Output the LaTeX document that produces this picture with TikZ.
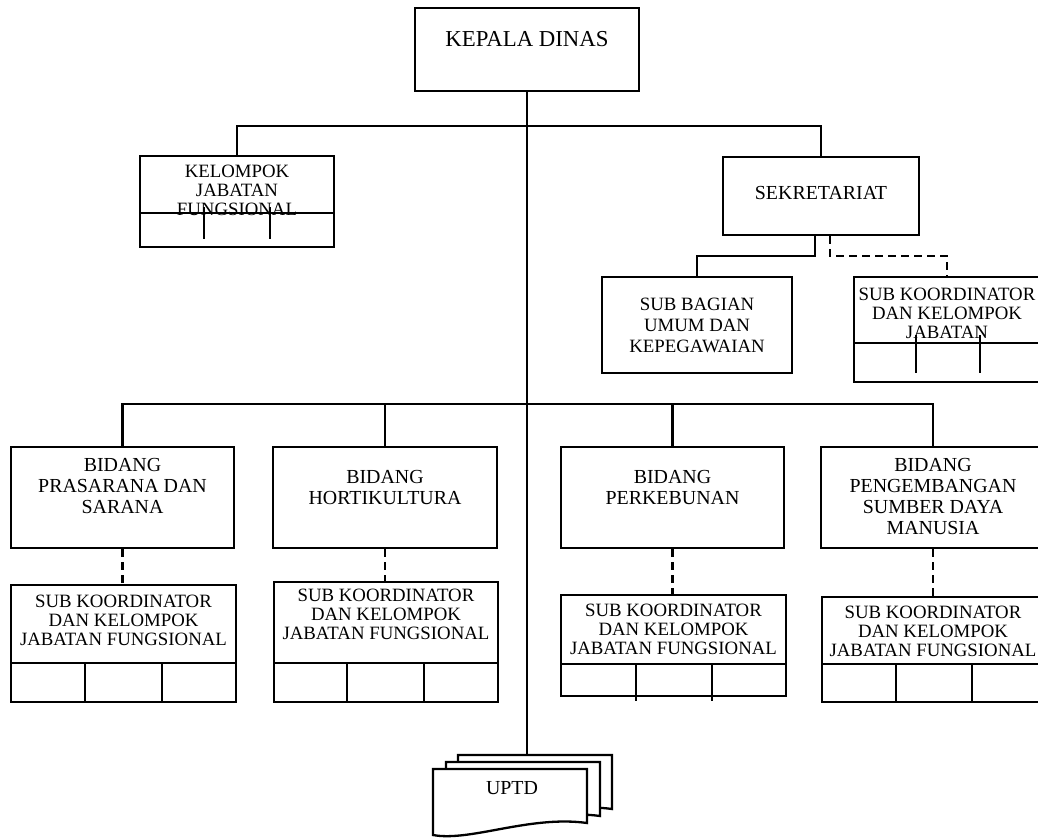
\documentclass[tikz,border=0pt]{standalone}
\usepackage{fontspec}
\setmainfont{Liberation Serif}

\begin{document}
\begin{tikzpicture}[
  x=1pt, y=-1pt,
  line width=2.3pt,
  box/.style={draw, rectangle, inner sep=0pt},
  lbl/.style={align=center, inner sep=0pt},
  bigf/.style={font=\fontsize{22.8}{24}\selectfont},
  midf/.style={font=\fontsize{19.9}{21}\selectfont},
  smallf/.style={font=\fontsize{18.8}{19}\selectfont},
  dashline/.style={dash pattern=on 8pt off 5pt}
]
\useasboundingbox (0,0) rectangle (1038,838);
\clip (0,0) rectangle (1038,838);

\node[box, minimum width=224pt, minimum height=83pt,
      label={[lbl, bigf, yshift=10.5pt]center:KEPALA DINAS}] (kepala) at (527,49.5) {};
\node[box, minimum width=194pt, minimum height=91pt,
      label={[lbl, smallf, yshift=11.5pt]center:{KELOMPOK\\JABATAN\\FUNGSIONAL}}] (kjf) at (237,201.5) {};
\node[box, minimum width=196pt, minimum height=78pt,
      label={[lbl, midf, yshift=3pt]center:SEKRETARIAT}] (sek) at (821,196) {};
\node[box, minimum width=190pt, minimum height=96pt,
      label={[lbl, font=\fontsize{18.8}{21}\selectfont]center:{SUB BAGIAN\\UMUM DAN\\KEPEGAWAIAN}}] (subbag) at (697,325) {};
\node[box, minimum width=186pt, minimum height=105pt,
      label={[lbl, smallf, yshift=16.5pt]center:{SUB KOORDINATOR\\DAN KELOMPOK\\JABATAN}}] (skj) at (947,329.5) {};

\node[box, minimum width=223pt, minimum height=101pt,
      label={[lbl, midf, yshift=11.5pt]center:{BIDANG\\PRASARANA DAN\\SARANA}}] (bid1) at (122.5,497.5) {};
\node[box, minimum width=224pt, minimum height=101pt,
      label={[lbl, midf, yshift=10pt]center:{BIDANG\\HORTIKULTURA}}] (bid2) at (385,497.5) {};
\node[box, minimum width=223pt, minimum height=101pt,
      label={[lbl, midf, yshift=10pt]center:{BIDANG\\PERKEBUNAN}}] (bid3) at (672.5,497.5) {};
\node[box, minimum width=224pt, minimum height=101pt,
      label={[lbl, midf, yshift=1pt]center:{BIDANG\\PENGEMBANGAN\\SUMBER DAYA\\MANUSIA}}] (bid4) at (933,497.5) {};

\node[box, minimum width=225pt, minimum height=117pt,
      label={[lbl, smallf, yshift=23.5pt]center:{SUB KOORDINATOR\\DAN KELOMPOK\\JABATAN FUNGSIONAL}}] (sk1) at (123.5,643.5) {};
\node[box, minimum width=224pt, minimum height=120pt,
      label={[lbl, smallf, yshift=28pt]center:{SUB KOORDINATOR\\DAN KELOMPOK\\JABATAN FUNGSIONAL}}] (sk2) at (386,642) {};
\node[box, minimum width=225pt, minimum height=101pt,
      label={[lbl, smallf, yshift=16pt]center:{SUB KOORDINATOR\\DAN KELOMPOK\\JABATAN FUNGSIONAL}}] (sk3) at (673.5,645.5) {};
\node[box, minimum width=222pt, minimum height=105pt,
      label={[lbl, smallf, yshift=18.5pt]center:{SUB KOORDINATOR\\DAN KELOMPOK\\JABATAN FUNGSIONAL}}] (sk4) at (933,649.5) {};

% cells under the boxes
\draw (140,213) -- (334,213) (204,207) -- (204,239) (270,207) -- (270,239);
\draw (854,343) -- (1040,343) (916,335) -- (916,373) (980,335) -- (980,373);
\draw (11,663) -- (236,663) (85,663) -- (85,702) (162,663) -- (162,702);
\draw (274,663) -- (498,663) (347,663) -- (347,702) (424,663) -- (424,702);
\draw (561,664) -- (786,664) (636,664) -- (636,701) (712,664) -- (712,701);
\draw (822,664) -- (1044,664) (896,664) -- (896,702) (972,664) -- (972,702);

% UPTD
\foreach \dx/\dy in {25/-14, 13/-7, 0/0}
  \draw[fill=white, shift={(\dx,\dy)}] (433,835) -- (433,769) -- (587,769) -- (587,823)
    .. controls (530,815) and (470,842) .. cycle;
\node[midf] (uptd) at (512,788) {UPTD};
\coordinate (uptdtop) at (527,755);

\draw (kepala.south) -- (uptdtop);
\draw (kjf.north) -- ++(0,-29) -| (sek.north);
\draw ([xshift=-6pt]sek.south) -- ++(0,20) -| (subbag.north);
\draw[dashline] ([xshift=9pt]sek.south) -- ++(0,20) -| (skj.north);

\draw (bid1.north) -- ++(0,-42) -| (bid4.north);
\draw (bid2.north) -- ++(0,-42);
\draw (bid3.north) -- ++(0,-42);

\draw[dashline] (bid1.south) -- (bid1.south |- sk1.north);
\draw[dashline] (bid2.south) -- (bid2.south |- sk2.north);
\draw[dashline] (bid3.south) -- (bid3.south |- sk3.north);
\draw[dashline] (bid4.south) -- (bid4.south |- sk4.north);
\end{tikzpicture}
\end{document}
